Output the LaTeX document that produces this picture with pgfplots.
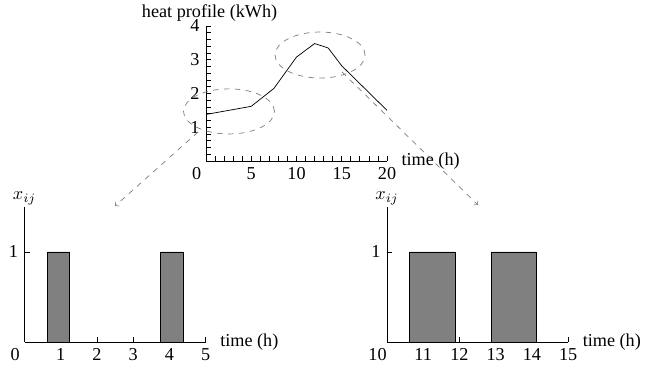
\documentclass[border=0pt]{standalone}
\usepackage{fontspec}
\setmainfont{Liberation Serif}
\usepackage{pgfplots}
\pgfplotsset{compat=1.18}
\pgfplotsset{
  myaxis/.style={
    scale only axis,
    anchor=south west,
    axis lines=left,
    axis line style={-, black, thin},
    tick align=inside,
    major tick length=2.8pt,
    minor tick length=2.8pt,
    tick style={black, thin},
    /pgf/number format/assume math mode=true,
    clip=false,
    every axis x label/.style={at={(axis description cs:1,0)}, anchor=west, xshift=4.5pt},
    every axis y label/.style={at={(axis description cs:0,1)}, anchor=south, inner sep=1pt},
    extra x tick style={tick label style={xshift=-5.2pt}, major tick length=0pt},
  }
}
\begin{document}
\begin{tikzpicture}
\useasboundingbox (0pt,0pt) rectangle (355.3pt,201.85pt);

% top: heat profile
\begin{axis}[myaxis, at={(113.3pt,113.3pt)}, width=99.55pt, height=74.25pt,
  xmin=0, xmax=20, ymin=0, ymax=4,
  xtick={0,5,10,15,20}, xticklabels={,5,10,15,20},
  ytick={0,1,2,3,4}, yticklabels={,1,2,3,4},
  minor x tick num=4, minor y tick num=4,
  extra x ticks={0}, extra x tick labels={0},
  xlabel={time (h)}, ylabel={heat profile (kWh)},
  every axis y label/.style={at={(axis description cs:0.02,1)}, anchor=south, inner sep=1pt, yshift=1.5pt},
]
\addplot[black, thin] coordinates {(0,1.38) (5,1.62) (7.5,2.15) (10,3.08) (12,3.48) (13.5,3.35) (15,2.82) (20,1.5)};
\draw[gray, dashed] (axis cs:2.54,1.47) ellipse [x radius=25pt, y radius=12.4pt];
\draw[gray, dashed] (axis cs:12.6,3.14) ellipse [x radius=24.75pt, y radius=12.65pt];
\end{axis}

% bottom left
\begin{axis}[myaxis, at={(13.475pt,13.585pt)}, width=99.66pt, height=74.6pt,
  xmin=0, xmax=5, ymin=0, ymax=1.5,
  xtick={1,2,3,4,5}, ytick={1},
  extra x ticks={0}, extra x tick labels={0},
  xlabel={time (h)}, ylabel={$x_{ij}$},
]
\addplot[fill=gray, draw=black] coordinates {(0.625,0) (0.625,1) (1.25,1) (1.25,0)} \closedcycle;
\addplot[fill=gray, draw=black] coordinates {(3.75,0) (3.75,1) (4.375,1) (4.375,0)} \closedcycle;
\end{axis}

% bottom right
\begin{axis}[myaxis, at={(212.85pt,13.585pt)}, width=99.66pt, height=74.6pt,
  xmin=10, xmax=15, ymin=0, ymax=1.5,
  xtick={11,12,13,14,15}, ytick={1},
  extra x ticks={10}, extra x tick labels={10},
  xlabel={time (h)}, ylabel={$x_{ij}$},
]
\addplot[fill=gray, draw=black] coordinates {(10.625,0) (10.625,1) (11.875,1) (11.875,0)} \closedcycle;
\addplot[fill=gray, draw=black] coordinates {(12.875,0) (12.875,1) (14.125,1) (14.125,0)} \closedcycle;
\end{axis}

\draw[gray, dashed, ->] (108.9pt,129.25pt) -- (63.25pt,88.55pt);
\draw[gray, dashed, ->] (188.1pt,162.25pt) -- (262.9pt,89.1pt);
\end{tikzpicture}
\end{document}
